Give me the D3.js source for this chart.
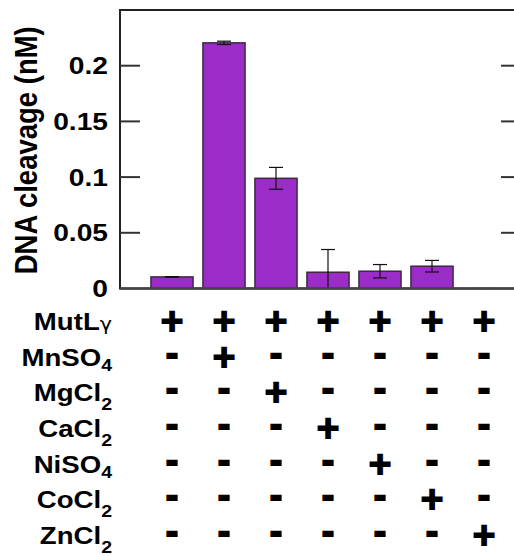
<!DOCTYPE html>
<html>
<head>
  <script src="https://d3js.org/d3.v7.min.js"></script>
  <style>
    body { margin: 0; background: #fff; }
    text { font-family: "Liberation Sans", Arial, sans-serif; font-weight: bold; fill: #000; }
  </style>
</head>
<body>
<div id="chart"></div>
<script>
  // lanes of the gel, one per reaction
  var lanes = [0, 1, 2, 3, 4, 5, 6];
  var values = [0.0104, 0.2205, 0.0989, 0.0146, 0.0155, 0.0200, 0.0];
  var errors = [0.0003, 0.0015, 0.0098, 0.0204, 0.0060, 0.0052, 0.0];
  var yTicks = [0, 0.05, 0.1, 0.15, 0.2];
  var yTickLabels = ["0", "0.05", "0.1", "0.15", "0.2"];

  // condition table under the chart
  var rowNames = ["MutL", "MnSO", "MgCl", "CaCl", "NiSO", "CoCl", "ZnCl"];
  var rowGreek = ["γ", "", "", "", "", "", ""];
  var rowSubs = ["", "4", "2", "2", "4", "2", "2"];
  var rowSigns = [
    ["+", "+", "+", "+", "+", "+", "+"],
    ["-", "+", "-", "-", "-", "-", "-"],
    ["-", "-", "+", "-", "-", "-", "-"],
    ["-", "-", "-", "+", "-", "-", "-"],
    ["-", "-", "-", "-", "+", "-", "-"],
    ["-", "-", "-", "-", "-", "+", "-"],
    ["-", "-", "-", "-", "-", "-", "+"]
  ];

  var width = 514, height = 557;
  var pLeft = 120, pRight = 521, pTop = 10, pBottom = 288.5;
  var stretch = 1.15;   // the original lettering is a little wide

  var svg = d3.select("#chart").append("svg")
    .attr("width", width)
    .attr("height", height);

  var x = d3.scaleBand()
    .domain(lanes)
    .range([146, 510])
    .paddingInner(0.19)
    .paddingOuter(0.095);

  var y = d3.scaleLinear()
    .domain([0, 0.25])
    .range([pBottom, pTop]);

  // frame
  svg.append("rect")
    .attr("x", pLeft)
    .attr("y", pTop)
    .attr("width", pRight - pLeft)
    .attr("height", pBottom - pTop)
    .attr("fill", "none")
    .attr("stroke", "#222")
    .attr("stroke-width", 2);

  // ticks inside on both sides
  svg.selectAll(".ltick")
    .data(yTicks.slice(1))
    .enter().append("line")
    .attr("x1", pLeft).attr("x2", pLeft + 20)
    .attr("y1", function(d) { return y(d); })
    .attr("y2", function(d) { return y(d); })
    .attr("stroke", "#333").attr("stroke-width", 2);

  svg.selectAll(".rtick")
    .data(yTicks.slice(1))
    .enter().append("line")
    .attr("x1", pRight - 20).attr("x2", pRight)
    .attr("y1", function(d) { return y(d); })
    .attr("y2", function(d) { return y(d); })
    .attr("stroke", "#333").attr("stroke-width", 2);

  svg.selectAll(".ylab")
    .data(yTicks)
    .enter().append("text")
    .attr("transform", function(d) {
      return "translate(108," + (y(d) + 8.5) + ") scale(" + stretch + ",1)";
    })
    .attr("text-anchor", "end")
    .style("font-size", "24.5px")
    .text(function(d, i) { return yTickLabels[i]; });

  svg.append("text")
    .attr("transform", "translate(36.5," + ((pTop + pBottom) / 2 + 1) + ") rotate(-90) scale(1," + stretch + ")")
    .attr("text-anchor", "middle")
    .style("font-size", "27.5px")
    .text("DNA cleavage (nM)");

  // bars
  svg.selectAll(".bar")
    .data(lanes)
    .enter().append("rect")
    .attr("x", function(d) { return x(d); })
    .attr("y", function(d) { return y(values[d]); })
    .attr("width", x.bandwidth())
    .attr("height", function(d) { return pBottom - y(values[d]); })
    .attr("fill", "#9c2cc8")
    .attr("stroke", "#3a2a40")
    .attr("stroke-width", 1.5);

  // error bars
  var cap = 7;
  var eb = svg.selectAll(".err")
    .data(lanes)
    .enter().append("g")
    .attr("stroke", "#111")
    .attr("stroke-width", 1.2);

  eb.append("line")
    .attr("x1", function(d) { return x(d) + x.bandwidth() / 2; })
    .attr("x2", function(d) { return x(d) + x.bandwidth() / 2; })
    .attr("y1", function(d) { return y(values[d] + errors[d]); })
    .attr("y2", function(d) { return y(Math.max(0, values[d] - errors[d])); });

  eb.append("line")
    .attr("x1", function(d) { return x(d) + x.bandwidth() / 2 - cap; })
    .attr("x2", function(d) { return x(d) + x.bandwidth() / 2 + cap; })
    .attr("y1", function(d) { return y(values[d] + errors[d]); })
    .attr("y2", function(d) { return y(values[d] + errors[d]); });

  eb.filter(function(d) { return values[d] - errors[d] > 0; })
    .append("line")
    .attr("x1", function(d) { return x(d) + x.bandwidth() / 2 - cap; })
    .attr("x2", function(d) { return x(d) + x.bandwidth() / 2 + cap; })
    .attr("y1", function(d) { return y(values[d] - errors[d]); })
    .attr("y2", function(d) { return y(values[d] - errors[d]); });

  // x axis baseline
  svg.append("line")
    .attr("x1", pLeft).attr("x2", pRight)
    .attr("y1", pBottom).attr("y2", pBottom)
    .attr("stroke", "#444").attr("stroke-width", 2.5);

  // table rows
  var rowY = d3.scaleLinear()
    .domain([0, rowNames.length - 1])
    .range([321, 535]);

  var rows = svg.selectAll(".row")
    .data(rowNames)
    .enter().append("g")
    .attr("transform", function(d, i) { return "translate(0," + rowY(i) + ")"; });

  var lbl = rows.append("text")
    .attr("transform", "translate(112,9) scale(" + stretch + ",1)")
    .attr("text-anchor", "end")
    .style("font-size", "24px");
  lbl.append("tspan").text(function(d) { return d; });
  lbl.append("tspan")
    .style("font-family", "'DejaVu Sans', sans-serif")
    .style("font-weight", "normal")
    .style("font-size", "18px")
    .text(function(d, i) { return rowGreek[i]; });
  lbl.append("tspan")
    .attr("dy", function(d, i) { return rowSubs[i] === "4" ? 5 : 9; })
    .style("font-size", "17px")
    .text(function(d, i) { return rowSubs[i]; });

  rows.selectAll(".sign")
    .data(function(d, i) { return rowSigns[i]; })
    .enter().append("text")
    .attr("x", function(d, j) { return x(lanes[j]) + x.bandwidth() / 2; })
    .attr("y", function(d) { return d === "+" ? 10 : 8; })
    .attr("text-anchor", "middle")
    .style("font-family", "'DejaVu Sans', sans-serif")
    .style("font-size", "30px")
    .style("stroke", "#000")
    .style("stroke-linejoin", "miter")
    .style("stroke-width", function(d) { return d === "+" ? 2.2 : 2; })
    .text(function(d) { return d; });
</script>
</body>
</html>
